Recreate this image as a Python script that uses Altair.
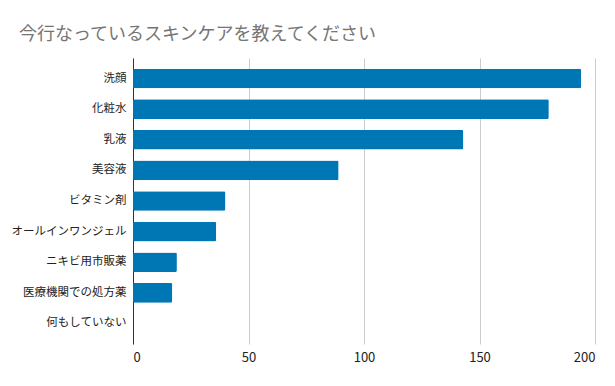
import altair as alt
import pandas as pd

categories = ["洗顔", "化粧水", "乳液", "美容液", "ビタミン剤", "オールインワンジェル",
              "ニキビ用市販薬", "医療機関での処方薬", "何もしていない"]
counts = [194, 180, 143, 89, 40, 36, 19, 17, 0]
x_ticks = [0, 50, 100, 150, 200]
title_text = "今行なっているスキンケアを教えてください"

df = pd.DataFrame({"item": categories, "count": counts})

FONT = "Noto Sans CJK JP"

chart = (
    alt.Chart(df)
    .mark_bar(color="#0077b5", cornerRadius=1.5)
    .encode(
        x=alt.X(
            "count:Q",
            scale=alt.Scale(domain=[0, 200], nice=False),
            axis=alt.Axis(
                title=None,
                values=x_ticks,
                domain=False,
                ticks=False,
                grid=True,
                gridColor="#cccccc",
                gridWidth=1,
                labelFont=FONT,
                labelFontSize=13,
                labelColor="#222222",
                labelPadding=7,
            ),
        ),
        y=alt.Y(
            "item:N",
            sort=None,
            scale=alt.Scale(paddingInner=0.36, paddingOuter=0.35),
            axis=alt.Axis(
                title=None,
                domain=True,
                domainColor="#333333",
                domainWidth=1,
                ticks=False,
                grid=False,
                labelFont=FONT,
                labelFontSize=11.5,
                labelColor="#222222",
                labelPadding=7,
                labelLimit=200,
                minExtent=122,
                maxExtent=122,
            ),
        ),
    )
    .properties(
        width=462,
        height=286,
        padding={"left": 3, "top": 18, "right": 5, "bottom": 5},
        title=alt.TitleParams(
            text=title_text,
            anchor="start",
            frame="bounds",
            dx=8,
            offset=14,
            font=FONT,
            fontSize=18,
            fontWeight="normal",
            color="#757575",
        ),
    )
    .configure_view(stroke=None)
)

chart.save("out.html", embed_options={"renderer": "svg", "actions": False})
